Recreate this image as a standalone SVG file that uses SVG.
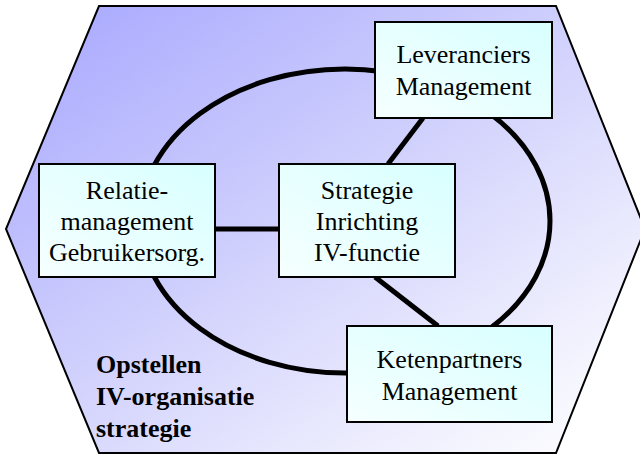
<svg xmlns="http://www.w3.org/2000/svg" width="640" height="455" viewBox="0 0 640 455">
  <defs>
    <linearGradient id="hexFill" x1="0" y1="0" x2="1" y2="1">
      <stop offset="0" stop-color="#a6a6ff"/>
      <stop offset="0.45" stop-color="#cfcffd"/>
      <stop offset="0.85" stop-color="#f4f4fe"/>
      <stop offset="1" stop-color="#ffffff"/>
    </linearGradient>
    <linearGradient id="boxFill" x1="1" y1="0" x2="0" y2="1">
      <stop offset="0" stop-color="#d8ffff"/>
      <stop offset="1" stop-color="#f6ffff"/>
    </linearGradient>
    <style>
      .box { fill: url(#boxFill); stroke: #000; stroke-width: 2; }
      .conn { fill: none; stroke: #000; stroke-width: 5; }
      .lbl { font-family: "Liberation Serif", "Times New Roman", serif; font-size: 26px; fill: #000; text-anchor: middle; }
      .title { font-family: "Liberation Serif", "Times New Roman", serif; font-size: 26px; font-weight: bold; fill: #000; }
    </style>
  </defs>

  <g id="background">
    <polygon points="99,6 556,6 645,229 556,453 99,453 6,229" fill="url(#hexFill)" stroke="#000" stroke-width="2"/>
  </g>

  <g id="connectors">
    <ellipse cx="345" cy="221" rx="205" ry="152" class="conn"/>
    <line x1="215" y1="229" x2="279" y2="229" class="conn"/>
    <line x1="423" y1="118" x2="388" y2="164" class="conn"/>
    <line x1="375" y1="277" x2="438" y2="326" class="conn"/>
  </g>

  <g id="leveranciers">
    <rect x="375" y="22" width="177" height="96" class="box"/>
    <text class="lbl" x="463.5" y="63">Leveranciers</text>
    <text class="lbl" x="463.5" y="95">Management</text>
  </g>

  <g id="relatie">
    <rect x="39" y="164" width="176" height="113" class="box"/>
    <text class="lbl" x="127" y="199">Relatie-</text>
    <text class="lbl" x="127" y="230">management</text>
    <text class="lbl" x="127" y="261">Gebruikersorg.</text>
  </g>

  <g id="strategie">
    <rect x="279" y="164" width="176" height="113" class="box"/>
    <text class="lbl" x="367" y="199">Strategie</text>
    <text class="lbl" x="367" y="230">Inrichting</text>
    <text class="lbl" x="367" y="261">IV-functie</text>
  </g>

  <g id="ketenpartners">
    <rect x="347" y="326" width="205" height="96" class="box"/>
    <text class="lbl" x="449.5" y="368">Ketenpartners</text>
    <text class="lbl" x="449.5" y="400">Management</text>
  </g>

  <g id="title">
    <text class="title" x="96" y="373">Opstellen</text>
    <text class="title" x="96" y="405">IV-organisatie</text>
    <text class="title" x="96" y="437">strategie</text>
  </g>
</svg>
